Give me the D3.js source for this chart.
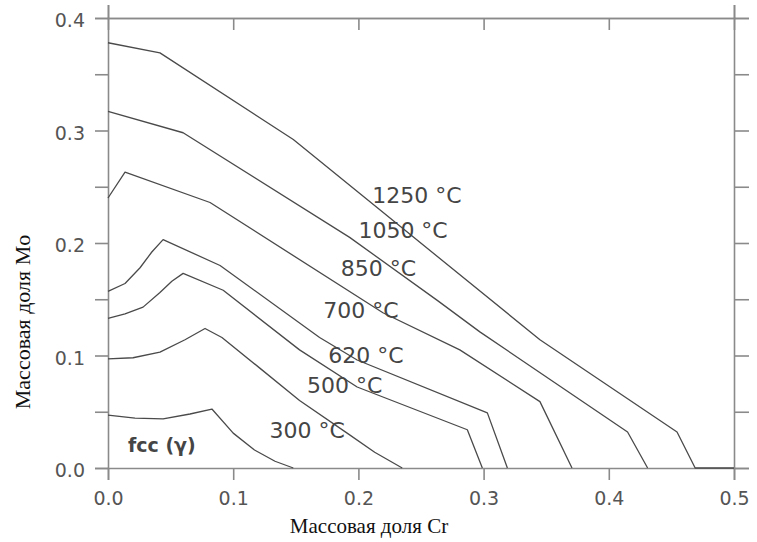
<!DOCTYPE html>
<html>
<head>
<meta charset="utf-8">
<script src="https://cdn.jsdelivr.net/npm/d3@7"></script>
<style>
  html, body { margin: 0; padding: 0; background: #fff; }
  svg { display: block; }
</style>
</head>
<body>
<svg id="chart" width="757" height="542"></svg>
<script>
// Isotherms of fcc (γ) boundary, mass fraction Cr vs mass fraction Mo
const curve1250 = [[0, 0.378], [0.0415, 0.369], [0.148, 0.292], [0.345, 0.114], [0.4545, 0.032], [0.469, 0], [0.5, 0]];
const curve1050 = [[0, 0.317], [0.06, 0.298], [0.193, 0.205], [0.263, 0.149], [0.297, 0.121], [0.415, 0.032], [0.431, 0]];
const curve850 = [[0, 0.24], [0.0136, 0.263], [0.0815, 0.236], [0.2196, 0.138], [0.281, 0.105], [0.345, 0.059], [0.3706, 0]];
const curve700 = [[0, 0.157], [0.0136, 0.164], [0.0256, 0.178], [0.035, 0.192], [0.044, 0.203], [0.0895, 0.18], [0.169, 0.116], [0.199, 0.096], [0.303, 0.049], [0.319, 0]];
const curve620 = [[0, 0.133], [0.0136, 0.137], [0.028, 0.143], [0.0415, 0.156], [0.051, 0.166], [0.06, 0.173], [0.092, 0.158], [0.153, 0.105], [0.199, 0.072], [0.287, 0.034], [0.299, 0]];
const curve500 = [[0, 0.097], [0.02, 0.098], [0.0415, 0.103], [0.0615, 0.114], [0.0775, 0.124], [0.091, 0.116], [0.121, 0.089], [0.153, 0.06], [0.191, 0.031], [0.213, 0.014], [0.235, 0]];
const curve300 = [[0, 0.047], [0.0216, 0.0444], [0.044, 0.0436], [0.0655, 0.048], [0.083, 0.0524], [0.1, 0.031], [0.117, 0.016], [0.1334, 0.006], [0.148, 0]];

const curves = [curve1250, curve1050, curve850, curve700, curve620, curve500, curve300];
const curveLabels = ['1250 °C', '1050 °C', '850 °C', '700 °C', '620 °C', '500 °C', '300 °C'];
// label anchor (Cr, Mo) for each isotherm
const labelCr = [0.211, 0.2, 0.186, 0.172, 0.176, 0.159, 0.129];
const labelMo = [0.243, 0.2116, 0.178, 0.14, 0.1, 0.074, 0.034];

const xTicks = [0, 0.1, 0.2, 0.3, 0.4, 0.5];
const xTickLabels = ['0.0', '0.1', '0.2', '0.3', '0.4', '0.5'];
const yTicks = [0, 0.05, 0.1, 0.15, 0.2, 0.25, 0.3, 0.35, 0.4];
const yTickLabels = ['0.0', '', '0.1', '', '0.2', '', '0.3', '', '0.4'];

const svg = d3.select('#chart');
const margin = { top: 18, right: 23, bottom: 74, left: 108 };
const width = 757 - margin.left - margin.right;
const height = 542 - margin.top - margin.bottom;

const x = d3.scaleLinear().domain([0, 0.5]).range([margin.left, margin.left + width]);
const y = d3.scaleLinear().domain([0, 0.4]).range([margin.top + height, margin.top]);

const axisColor = '#8a8a8a';

function styleAxis(g) {
  g.select('.domain').attr('stroke', axisColor).attr('stroke-width', 1.6);
  g.selectAll('.tick line').attr('stroke', axisColor).attr('stroke-width', 1.6);
  g.selectAll('.tick text')
    .attr('fill', '#555')
    .attr('font-family', '"DejaVu Sans", sans-serif')
    .attr('font-size', 19);
}

// left axis: outward ticks every 0.05
svg.append('g')
  .attr('transform', `translate(${margin.left},0)`)
  .call(d3.axisLeft(y).tickValues(yTicks).tickSize(13).tickPadding(10)
    .tickFormat((d, i) => yTickLabels[i]))
  .call(styleAxis)
  .call((g) => g.selectAll('.tick text').attr('dy', '0.45em'));

// right axis: outward ticks every 0.05
svg.append('g')
  .attr('transform', `translate(${margin.left + width},0)`)
  .call(d3.axisRight(y).tickValues(yTicks).tickSize(15).tickFormat(''))
  .call(styleAxis);

// bottom axis
svg.append('g')
  .attr('transform', `translate(0,${margin.top + height})`)
  .call(d3.axisBottom(x).tickValues(xTicks).tickSize(12).tickPadding(12)
    .tickFormat((d, i) => xTickLabels[i]))
  .call(styleAxis);

// top axis: outward at the ends, inward in between
svg.append('g')
  .attr('transform', `translate(0,${margin.top})`)
  .call(d3.axisTop(x).tickValues([xTicks[0], xTicks[xTicks.length - 1]]).tickSize(13).tickFormat(''))
  .call(styleAxis);

svg.append('g')
  .attr('transform', `translate(0,${margin.top})`)
  .call(d3.axisTop(x).tickValues(xTicks.slice(1, -1)).tickSize(-12).tickFormat(''))
  .call(styleAxis);

// isotherms
const line = d3.line().x((d) => x(d[0])).y((d) => y(d[1]));

svg.append('g')
  .selectAll('path')
  .data(curves)
  .join('path')
  .attr('d', line)
  .attr('fill', 'none')
  .attr('stroke', '#4a4a4a')
  .attr('stroke-width', 1.3)
  .attr('stroke-linejoin', 'round');

svg.append('g')
  .selectAll('text')
  .data(curveLabels)
  .join('text')
  .attr('x', (d, i) => x(labelCr[i]))
  .attr('y', (d, i) => y(labelMo[i]))
  .attr('dy', '0.36em')
  .attr('fill', '#454545')
  .attr('font-family', '"DejaVu Sans", sans-serif')
  .attr('font-size', 22)
  .text((d) => d);

svg.append('text')
  .attr('x', x(0.016))
  .attr('y', y(0.019))
  .attr('dy', '0.3em')
  .attr('fill', '#454545')
  .attr('font-family', '"DejaVu Sans", sans-serif')
  .attr('font-weight', 'bold')
  .attr('font-size', 19)
  .text('fcc (γ)');

// axis titles
svg.append('text')
  .attr('x', 369)
  .attr('y', 533)
  .attr('text-anchor', 'middle')
  .attr('font-family', '"Liberation Serif", "Times New Roman", serif')
  .attr('font-size', 21)
  .attr('fill', '#111')
  .text('Массовая доля Cr');

svg.append('text')
  .attr('transform', 'translate(30,322) rotate(-90)')
  .attr('text-anchor', 'middle')
  .attr('font-family', '"Liberation Serif", "Times New Roman", serif')
  .attr('font-size', 22)
  .attr('fill', '#111')
  .text('Массовая доля Mo');
</script>
</body>
</html>
